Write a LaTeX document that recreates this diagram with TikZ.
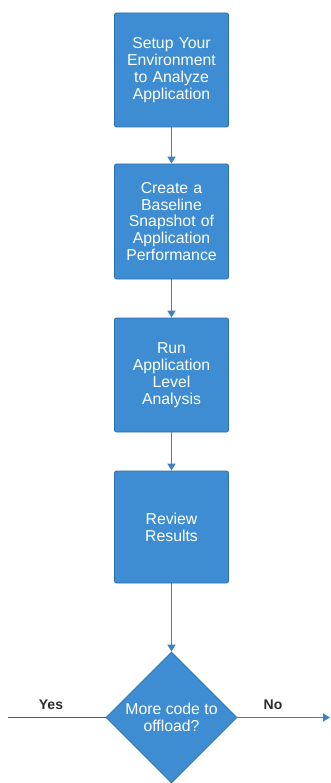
\documentclass[tikz,border=0pt]{standalone}
\usepackage{fontspec}
\setmainfont{Liberation Sans}
\usetikzlibrary{shapes.geometric,arrows.meta}
\definecolor{boxfill}{HTML}{3E8DD3}
\definecolor{boxline}{HTML}{2E6FAE}
\definecolor{arrowc}{HTML}{3C82C4}
\definecolor{yesline}{HTML}{505A64}
\definecolor{labc}{HTML}{2B2B2B}
\tikzset{
  stepbox/.style={draw=boxline, line width=0.8pt, fill=boxfill, rounded corners=2pt,
    minimum width=114pt, minimum height=114pt, text width=112pt, align=center,
    text=white, font=\fontsize{15.8}{16.9}\selectfont, inner sep=0pt},
  decide/.style={diamond, draw=boxline, line width=0.8pt, fill=boxfill,
    minimum width=131pt, minimum height=131pt, inner sep=0pt, align=center,
    text=white, font=\fontsize{15.8}{16.9}\selectfont},
  flow/.style={draw=arrowc, line width=1.6pt, -{Triangle[length=7pt,width=8pt]}},
  lab/.style={font=\bfseries\fontsize{14}{16}\selectfont, text=labc}
}
\begin{document}
\begin{tikzpicture}[x=1pt,y=-1pt]
\useasboundingbox (0,0) rectangle (330,783);
\node[stepbox] (s1) at (171.5,70) {Setup Your\\Environment\\to Analyze\\Application};
\node[stepbox, minimum height=115pt] (s2) at (171.5,221.5) {Create a\\Baseline\\Snapshot of\\Application\\Performance};
\node[stepbox] (s3) at (171.5,375) {Run\\Application\\Level\\Analysis};
\node[stepbox, minimum height=112pt] (s4) at (171.5,527) {Review\\Results};
\node[decide] (d) at (171.5,717.5) {More code to\\offload?};
\coordinate (yesend) at (8,717.5);
\coordinate (noend) at (330,717.5);
\draw[flow] (s1) -- (s2);
\draw[flow] (s2) -- (s3);
\draw[flow] (s3) -- (s4);
\draw[flow] (s4.south) -- (d.north);
\draw[draw=yesline, line width=1.4pt] (d.west) -- (yesend);
\draw[flow] (d.east) -- (noend);
\node[lab] (yes) at (51,705) {Yes};
\node[lab] (no) at (273,705) {No};
\end{tikzpicture}
\end{document}
